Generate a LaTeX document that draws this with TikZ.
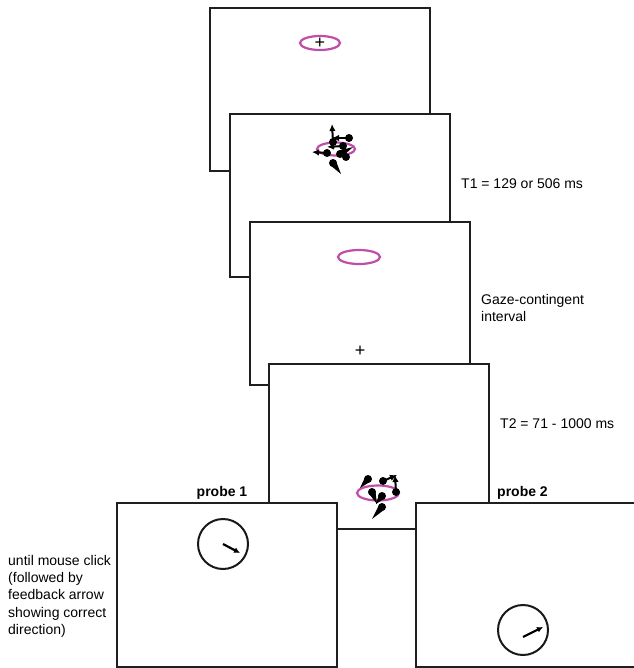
\documentclass[tikz,border=0pt]{standalone}
\usepackage{fontspec}
\setmainfont{Liberation Sans}
\usetikzlibrary{positioning, calc, arrows.meta}
\definecolor{gazepink}{RGB}{192,78,168}
\tikzstyle{screen} = [rectangle, draw=black!88, line width=1.8pt, fill=white, minimum width=220pt, minimum height=163pt, inner sep=0pt]
\tikzstyle{gaze} = [draw=gazepink, line width=2.2pt]
\tikzstyle{txt} = [inner sep=0pt, font=\fontsize{14}{17.3}\selectfont]
\tikzstyle{fix} = [inner sep=0pt, font=\fontsize{18}{18}\selectfont]
\tikzstyle{dial} = [circle, draw=black!90, line width=2pt, minimum size=50pt, inner sep=0pt]
\tikzstyle{pointer} = [-{Latex[length=6pt,width=6pt]}, line width=2.2pt]
% dot with a tapered motion tail / with an arrow
\newcommand{\tadpole}[2]{\fill (#1) circle (4pt); \fill ($(#1)!3.6pt!90:(#2)$) -- (#2) -- ($(#1)!3.6pt!-90:(#2)$) -- cycle;}
\newcommand{\dotarrow}[2]{\fill (#1) circle (4pt); \draw[line width=2pt, -{Latex[length=7pt,width=6.5pt]}] (#1) -- (#2);}
\begin{document}
\begin{tikzpicture}[x=1pt, y=-1pt]
\useasboundingbox (0,0) rectangle (633,668);
% fixation
\node (scr1)[screen] at (320,89.5) {};
\draw[gaze] (320,43) ellipse (20 and 7);
\node (fix1)[fix] at (320,43) {+};
% T1 display
\node (scr2)[screen] at (340,195.5) {};
\draw[gaze] (336,149) ellipse (19 and 6.5);
\dotarrow{333,142}{332,124}
\dotarrow{349,138}{332,138}
\dotarrow{343,146}{327,147}
\dotarrow{327,153}{312,152}
\tadpole{340,154}{353,147}
\fill (346,157) circle (4pt);
\tadpole{333,163}{341,174}
\node (t1)[txt, anchor=base west] at (461,189) {T1 = 129 or 506 ms};
% gaze-contingent interval
\node (scr3)[screen] at (360,303.5) {};
\draw[gaze] (359,257) ellipse (21 and 7);
\node (fix3)[fix] at (360,351) {+};
\node (gci)[txt, align=left, anchor=north west] at (481,293.7) {Gaze-contingent\\interval};
% T2 display
\node (scr4)[screen, minimum height=165pt] at (379,446.5) {};
\draw[gaze] (378,493) ellipse (21 and 7.5);
\tadpole{368,479}{360,488}
\dotarrow{383,481}{397,475}
\dotarrow{396,492}{395,475}
\tadpole{372,492}{377,504}
\tadpole{382,496}{376,504}
\tadpole{382,507}{372,519}
\node (t2)[txt, anchor=base west] at (500,428) {T2 = 71 - 1000 ms};
% probes
\node (probe1)[screen, minimum height=164pt] at (227,585) {};
\node (probe2)[screen, minimum height=164pt, minimum width=222pt] at (527,585) {};
\node (lab1)[txt, font=\fontsize{14}{17}\selectfont\bfseries, anchor=base] at (222,496) {probe 1};
\node (lab2)[txt, font=\fontsize{14}{17}\selectfont\bfseries, anchor=base west] at (497,496) {probe 2};
\node (dial1)[dial] at (223,544) {};
\draw[pointer] (dial1.center) -- (240,553);
\node (dial2)[dial] at (523,630) {};
\draw[pointer] ($(dial2.center)+(0,7)$) -- (543,627);
\node (click)[txt, align=left, anchor=north west] at (8,555) {until mouse click\\(followed by\\feedback arrow\\showing correct\\direction)};
\end{tikzpicture}
\end{document}
